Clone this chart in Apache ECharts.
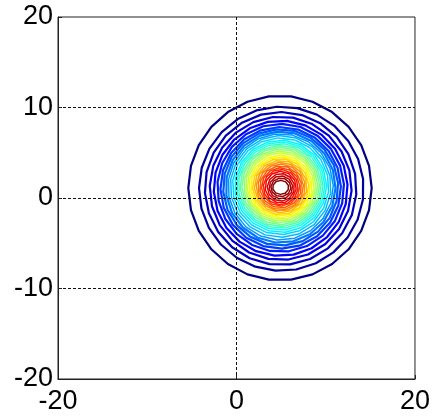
<!DOCTYPE html>
<html><head><meta charset="utf-8">
<script src="https://cdn.jsdelivr.net/npm/echarts@6/dist/echarts.min.js"></script>
<style>html,body{margin:0;padding:0;background:#fff}#c{width:433px;height:417px}</style>
</head><body><div id="c"></div>
<script>
// Tick labels
const xTicks = [-20, 0, 20];
const yTicks = [-20, -10, 0, 10, 20];
// Contour rings, outermost (lowest level) to innermost (highest level):
// extents of each ring (data units)
const ringLeft   = [-5.4, -4.2, -3.55, -3.0, -2.55, -2.15, -1.8, -1.5, -1.2, -0.95, -0.7, -0.45, -0.2, 0.0, 0.2, 0.4, 0.6, 0.8, 1.0, 1.2, 1.4, 1.6, 1.8, 2.0, 2.2, 2.4, 2.6, 2.8, 3.0, 3.2, 3.45, 3.65, 3.85, 4.05];
const ringRight  = [15.15, 14.25, 13.45, 12.9, 12.45, 12.05, 11.7, 11.4, 11.1, 10.85, 10.6, 10.35, 10.1, 9.9, 9.7, 9.5, 9.3, 9.1, 8.9, 8.7, 8.5, 8.3, 8.1, 7.9, 7.7, 7.5, 7.3, 7.1, 6.9, 6.7, 6.5, 6.3, 6.1, 5.85];
const ringTop    = [11.3, 10.1, 9.5, 9.0, 8.55, 8.2, 7.85, 7.6, 7.35, 7.1, 6.9, 6.65, 6.4, 6.2, 6.0, 5.8, 5.6, 5.4, 5.2, 5.0, 4.75, 4.55, 4.35, 4.15, 3.95, 3.75, 3.55, 3.35, 3.15, 2.95, 2.7, 2.45, 2.2, 1.95];
const ringBottom = [-9.1, -8.05, -7.4, -6.85, -6.4, -5.95, -5.6, -5.25, -4.95, -4.65, -4.35, -4.05, -3.8, -3.55, -3.35, -3.15, -2.95, -2.75, -2.55, -2.35, -2.2, -2.0, -1.85, -1.65, -1.45, -1.3, -1.1, -0.9, -0.75, -0.55, -0.35, -0.1, 0.15, 0.4];

function jet(t) {
  const f = v => Math.max(0, Math.min(1, v));
  const r = f(1.5 - Math.abs(4 * t - 3)), g = f(1.5 - Math.abs(4 * t - 2)), b = f(1.5 - Math.abs(4 * t - 1));
  return 'rgb(' + Math.round(r * 255) + ',' + Math.round(g * 255) + ',' + Math.round(b * 255) + ')';
}

const nRings = ringLeft.length;
const series = [];
for (let k = 0; k < nRings; k++) {
  const cx = (ringLeft[k] + ringRight[k]) / 2, cy = (ringTop[k] + ringBottom[k]) / 2;
  const rx = (ringRight[k] - ringLeft[k]) / 2, ry = (ringTop[k] - ringBottom[k]) / 2;
  const n = Math.round(8 + 1.8 * Math.max(rx, ry));
  const a0 = k * 0.37;
  const pts = [];
  for (let i = 0; i <= n; i++) {
    const a = a0 + 2 * Math.PI * i / n;
    pts.push([cx + rx * Math.cos(a), cy + ry * Math.sin(a)]);
  }
  series.push({
    type: 'line', data: pts, showSymbol: false, symbol: 'none', silent: true,
    animation: false, z: 2,
    lineStyle: { color: jet(k / (nRings - 1)), width: k < 9 ? 2.2 : 1.5, join: 'round', cap: 'round' }
  });
}

const labelFont = { fontSize: 27, color: '#000', fontFamily: '"Liberation Sans", Arial, sans-serif' };
const chart = echarts.init(document.getElementById('c'), null, { renderer: 'canvas' });
chart.setOption({
  animation: false,
  backgroundColor: '#fff',
  grid: { left: 58, top: 17, width: 362, height: 362, show: true, borderColor: '#222', borderWidth: 1, backgroundColor: '#fff' },
  xAxis: {
    type: 'value', min: xTicks[0], max: xTicks[xTicks.length - 1], interval: 20, z: 5,
    axisLine: { show: true, onZero: false, lineStyle: { color: '#222', width: 1 } },
    axisTick: { show: true, inside: true, length: 4, lineStyle: { color: '#222' } },
    axisLabel: Object.assign({ margin: 9 }, labelFont),
    splitLine: { show: true, showMinLine: false, showMaxLine: false, lineStyle: { color: '#111', width: 1, type: [3, 2] } }
  },
  yAxis: {
    type: 'value', min: yTicks[0], max: yTicks[yTicks.length - 1], interval: 10, z: 5,
    axisLine: { show: true, onZero: false, lineStyle: { color: '#222', width: 1 } },
    axisTick: { show: true, inside: true, length: 4, lineStyle: { color: '#222' } },
    axisLabel: Object.assign({ margin: 5 }, labelFont),
    splitLine: { show: true, showMinLine: false, showMaxLine: false, lineStyle: { color: '#111', width: 1, type: [3, 2] } }
  },
  series: series
});
</script></body></html>
